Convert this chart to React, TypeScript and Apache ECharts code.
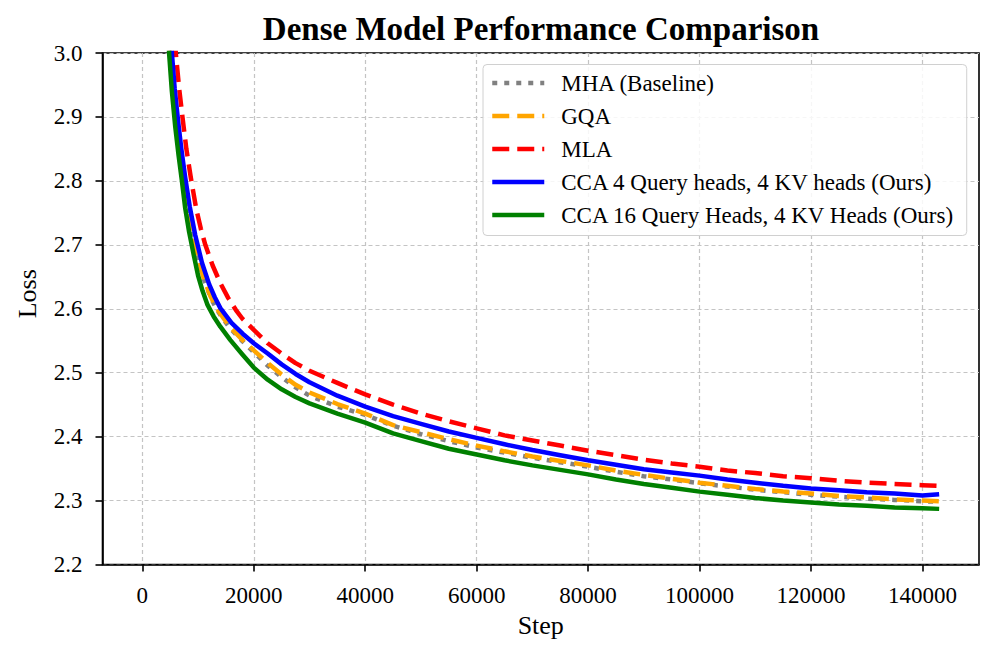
import React, { useEffect, useRef } from "react";
import * as echarts from "echarts";

const FONT = "'Liberation Serif', 'Times New Roman', serif";

const titleText = "Dense Model Performance Comparison";
const xName = "Step";
const yName = "Loss";
const xTicks = [0, 20000, 40000, 60000, 80000, 100000, 120000, 140000];

const seriesNames = [
  "MHA (Baseline)",
  "GQA",
  "MLA",
  "CCA 4 Query heads, 4 KV heads (Ours)",
  "CCA 16 Query Heads, 4 KV Heads (Ours)",
];

const mhaSteps = [3500, 4200, 5000, 5500, 6100, 6700, 7400, 8200, 9000, 10000, 11000, 12200, 13400, 14600, 15800, 18000, 20000, 22500, 25000, 27500, 30000, 35000, 40000, 45000, 50000, 55000, 60000, 65000, 70000, 75000, 80000, 85000, 90000, 95000, 100000, 105000, 110000, 115000, 120000, 125000, 130000, 135000, 140000, 143000];
const mhaLoss = [3.45, 3.2, 3.0, 2.945, 2.895, 2.85, 2.805, 2.757, 2.72, 2.68, 2.647, 2.619, 2.598, 2.583, 2.569, 2.549, 2.532, 2.511, 2.493, 2.477, 2.464, 2.447, 2.434, 2.417, 2.404, 2.393, 2.383, 2.375, 2.367, 2.36, 2.353, 2.345, 2.338, 2.333, 2.327, 2.322, 2.317, 2.313, 2.309, 2.306, 2.303, 2.301, 2.299, 2.298];

const gqaSteps = [3500, 4200, 5000, 5500, 6100, 6700, 7400, 8200, 9000, 10000, 11000, 12200, 13400, 14600, 15800, 18000, 20000, 22500, 25000, 27500, 30000, 35000, 40000, 45000, 50000, 55000, 60000, 65000, 70000, 75000, 80000, 85000, 90000, 95000, 100000, 105000, 110000, 115000, 120000, 125000, 130000, 135000, 140000, 143000];
const gqaLoss = [3.45, 3.2, 3.0, 2.945, 2.895, 2.85, 2.805, 2.757, 2.72, 2.68, 2.648, 2.62, 2.6, 2.585, 2.571, 2.551, 2.535, 2.515, 2.497, 2.481, 2.469, 2.451, 2.436, 2.418, 2.407, 2.396, 2.386, 2.377, 2.369, 2.362, 2.355, 2.347, 2.34, 2.334, 2.328, 2.323, 2.318, 2.314, 2.311, 2.307, 2.305, 2.302, 2.3, 2.299];

const mlaSteps = [4300, 5100, 6000, 6600, 7200, 7900, 8700, 9700, 10500, 11300, 12600, 14000, 15400, 16800, 18000, 20000, 22500, 25000, 27500, 30000, 35000, 40000, 45000, 50000, 55000, 60000, 65000, 70000, 75000, 80000, 85000, 90000, 95000, 100000, 105000, 110000, 115000, 120000, 125000, 130000, 135000, 140000, 142800];
const mlaLoss = [3.45, 3.2, 3.0, 2.945, 2.9, 2.85, 2.805, 2.755, 2.725, 2.7, 2.668, 2.64, 2.617, 2.598, 2.584, 2.567, 2.546, 2.53, 2.515, 2.503, 2.484, 2.466, 2.45, 2.436, 2.424, 2.413, 2.402, 2.394, 2.386, 2.378, 2.371, 2.364, 2.358, 2.353, 2.347, 2.343, 2.338, 2.335, 2.331, 2.328, 2.326, 2.324, 2.323];

const cca4Steps = [3700, 4400, 5300, 5800, 6400, 7000, 7700, 8500, 9500, 10700, 12000, 13000, 14000, 16000, 18000, 20000, 22500, 25000, 27500, 30000, 35000, 40000, 45000, 50000, 55000, 60000, 65000, 70000, 75000, 80000, 85000, 90000, 95000, 100000, 105000, 110000, 115000, 120000, 125000, 130000, 135000, 140000, 143000];
const cca4Loss = [3.45, 3.2, 3.0, 2.945, 2.895, 2.85, 2.805, 2.76, 2.715, 2.672, 2.638, 2.618, 2.601, 2.578, 2.561, 2.546, 2.53, 2.513, 2.498, 2.485, 2.464, 2.447, 2.432, 2.42, 2.408, 2.398, 2.388, 2.379, 2.371, 2.363, 2.356, 2.349, 2.344, 2.339, 2.333, 2.328, 2.323, 2.319, 2.316, 2.313, 2.311, 2.308, 2.31];

const cca16Steps = [3300, 4000, 4800, 5300, 5900, 6500, 7100, 7700, 8400, 9200, 10000, 10800, 11700, 12800, 14000, 15800, 18000, 20000, 22500, 25000, 27500, 30000, 35000, 40000, 45000, 50000, 55000, 60000, 65000, 70000, 75000, 80000, 85000, 90000, 95000, 100000, 105000, 110000, 115000, 120000, 125000, 130000, 135000, 140000, 143000];
const cca16Loss = [3.45, 3.2, 3.0, 2.94, 2.885, 2.84, 2.8, 2.757, 2.72, 2.685, 2.652, 2.628, 2.606, 2.588, 2.572, 2.551, 2.528, 2.508, 2.489, 2.474, 2.462, 2.452, 2.436, 2.422, 2.405, 2.393, 2.381, 2.372, 2.363, 2.355, 2.348, 2.341, 2.333, 2.326, 2.32, 2.314, 2.309, 2.304, 2.3, 2.297, 2.294, 2.292, 2.289, 2.288, 2.287];

const zip = (xs: number[], ys: number[]) => xs.map((x, i) => [x, ys[i]]);

export default function App() {
  const ref = useRef<HTMLDivElement>(null);
  useEffect(() => {
    if (!ref.current) return;
    const chart = echarts.init(ref.current, null, { renderer: "svg" });
    const styles = [
      { color: "#808080", type: [5, 7] },
      { color: "#FFA500", type: [17, 8] },
      { color: "#FF0000", type: [17, 8] },
      { color: "#0000FF", type: "solid" },
      { color: "#008000", type: "solid" },
    ];
    const datas = [
      zip(mhaSteps, mhaLoss),
      zip(gqaSteps, gqaLoss),
      zip(mlaSteps, mlaLoss),
      zip(cca4Steps, cca4Loss),
      zip(cca16Steps, cca16Loss),
    ];
    const gridLine = { show: true, lineStyle: { color: "#c4c4c4", width: 1.2, type: [4, 3] } };
    chart.setOption({
      animation: false,
      backgroundColor: "#ffffff",
      textStyle: { fontFamily: FONT },
      title: {
        text: titleText,
        left: 536,
        top: 7,
        textAlign: "center",
        textStyle: { fontFamily: FONT, fontWeight: "bold", fontSize: 33, color: "#000" },
      },
      grid: {
        left: 102.5,
        right: 17,
        top: 53,
        bottom: 94.5,
        show: true,
        borderColor: "#000",
        borderWidth: 1.6,
        backgroundColor: "transparent",
      },
      legend: {
        orient: "vertical",
        left: 483,
        top: 64.5,
        padding: [7, 12, 9, 7],
        itemWidth: 52,
        itemHeight: 14,
        itemGap: 10,
        backgroundColor: "rgba(255,255,255,0.85)",
        borderColor: "#d0d0d0",
        borderWidth: 1,
        borderRadius: 4,
        itemStyle: { opacity: 0 },
        lineStyle: { width: 4.5 },
        textStyle: { fontFamily: FONT, fontSize: 23, color: "#000", lineHeight: 23, padding: [0, 0, 0, 12] },
        data: seriesNames,
      },
      xAxis: {
        type: "value",
        min: -7150,
        max: 150150,
        name: xName,
        nameLocation: "middle",
        nameGap: 48,
        nameTextStyle: { fontFamily: FONT, fontSize: 26, color: "#000" },
        axisLine: { show: true, onZero: false, lineStyle: { color: "#000", width: 1.6 } },
        axisTick: { show: true, length: 7, lineStyle: { color: "#000", width: 1.6 }, customValues: xTicks },
        axisLabel: {
          fontFamily: FONT,
          fontSize: 23,
          color: "#000",
          margin: 19,
          customValues: xTicks,
          formatter: (v: number) => String(Math.round(v)),
        },
        splitLine: gridLine,
      },
      yAxis: {
        type: "value",
        min: 2.2,
        max: 3.0,
        interval: 0.1,
        name: yName,
        nameLocation: "middle",
        nameGap: 62,
        nameTextStyle: { fontFamily: FONT, fontSize: 26, color: "#000", padding: [0, 0, 0, 30] },
        axisLine: { show: true, onZero: false, lineStyle: { color: "#000", width: 1.6 } },
        axisTick: { show: true, length: 7, lineStyle: { color: "#000", width: 1.6 } },
        axisLabel: {
          fontFamily: FONT,
          fontSize: 23,
          color: "#000",
          margin: 20,
          formatter: (v: number) => v.toFixed(1),
        },
        splitLine: gridLine,
      },
      series: seriesNames.map((name, i) => ({
        name,
        type: "line",
        data: datas[i],
        symbol: "none",
        showSymbol: false,
        smooth: false,
        clip: true,
        color: styles[i].color,
        lineStyle: { color: styles[i].color, width: 4.5, type: styles[i].type, join: "round" },
        z: 2 + i,
      })),
    });
    return () => chart.dispose();
  }, []);
  return (
    <div
      ref={ref}
      style={{ position: "fixed", left: 0, top: 0, width: 996, height: 659, background: "#fff" }}
    />
  );
}
